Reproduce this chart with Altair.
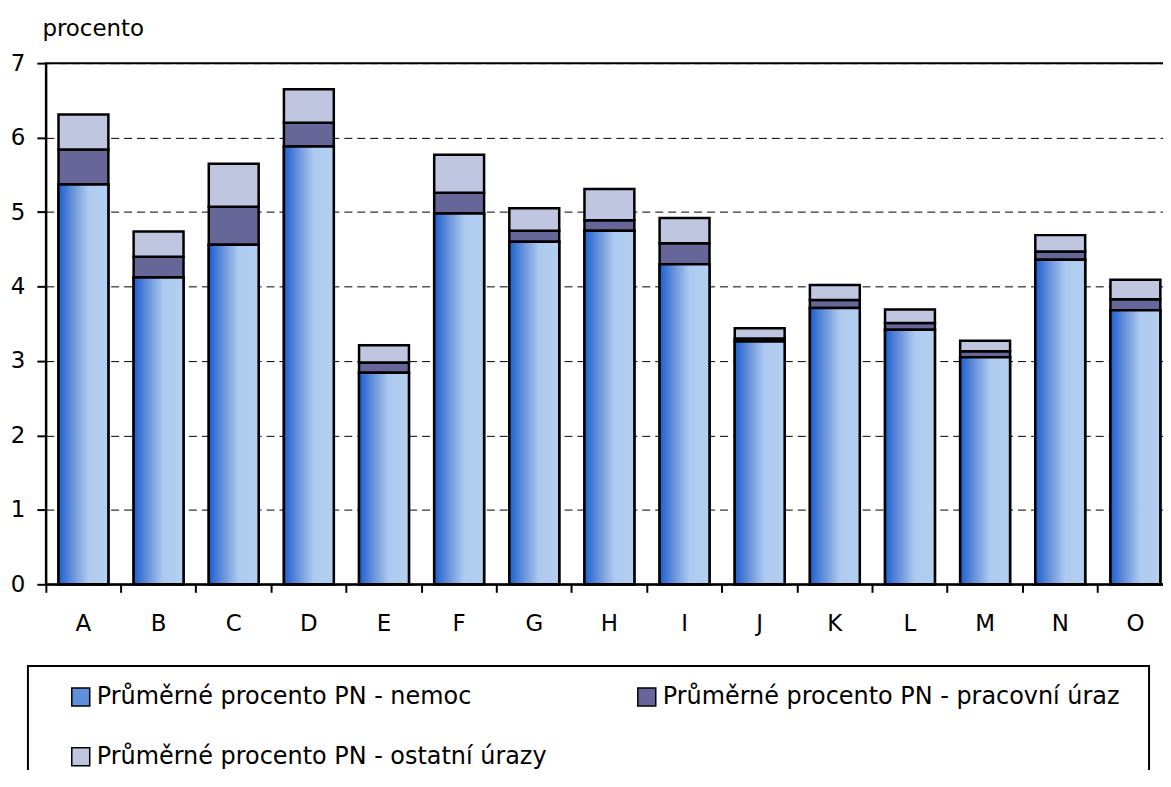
import altair as alt
import pandas as pd

categories = ["A", "B", "C", "D", "E", "F", "G", "H", "I", "J", "K", "L", "M", "N", "O"]
series_names = [
    "Průměrné procento PN - nemoc",
    "Průměrné procento PN - pracovní úraz",
    "Průměrné procento PN - ostatní úrazy",
]
nemoc = [5.37, 4.12, 4.56, 5.88, 2.84, 4.98, 4.60, 4.75, 4.30, 3.26, 3.71, 3.42, 3.05, 4.36, 3.68]
pracovni_uraz = [0.47, 0.28, 0.51, 0.32, 0.14, 0.28, 0.15, 0.14, 0.28, 0.04, 0.11, 0.09, 0.08, 0.11, 0.15]
ostatni_urazy = [0.47, 0.34, 0.58, 0.45, 0.23, 0.51, 0.30, 0.42, 0.34, 0.14, 0.20, 0.18, 0.14, 0.22, 0.26]
series_colors = ["#5f90dc", "#666699", "#c0c5e0"]
y_ticks = [0, 1, 2, 3, 4, 5, 6, 7]

rows = []
for i, c in enumerate(categories):
    for k, vals in enumerate([nemoc, pracovni_uraz, ostatni_urazy]):
        rows.append({"kat": c, "serie": series_names[k], "poradi": k, "hodnota": vals[i]})
df = pd.DataFrame(rows)

FONT = "DejaVu Sans"
W = 1131
H = 523

gradient = {
    "gradient": "linear",
    "x1": 0, "y1": 0, "x2": 1, "y2": 0,
    "stops": [
        {"offset": 0, "color": "#1c5fd0"},
        {"offset": 0.3, "color": "#6a95dc"},
        {"offset": 0.6, "color": "#aecbef"},
        {"offset": 1, "color": "#b3d0f2"},
    ],
}

x_axis = alt.Axis(
    title=None, bandPosition=0, labelAngle=0,
    labelFont=FONT, labelFontSize=23, labelColor="black",
    labelBaseline="alphabetic", labelPadding=38,
    tickSize=8, tickWidth=2, tickColor="black",
    domainColor="black", domainWidth=2, grid=False,
)
x_enc = alt.X("kat:N", sort=categories, scale=alt.Scale(paddingInner=0, paddingOuter=0), axis=x_axis)

y_scale = alt.Scale(domain=[0, 7], nice=False)
y_axis = alt.Axis(
    values=y_ticks, title="procento", titleAngle=0, titleAlign="left",
    titleBaseline="alphabetic", titleX=-4, titleY=-28,
    titleFont=FONT, titleFontSize=23, titleFontWeight="normal", titleColor="black",
    labelFont=FONT, labelFontSize=23, labelColor="black", labelPadding=12,
    tickSize=9, tickWidth=2, tickColor="black",
    domainColor="black", domainWidth=2,
    grid=True, gridDash=[8, 5], gridColor="black", gridWidth=1, gridOpacity=1,
)

bars = alt.Chart(df).mark_bar(
    width={"band": 0.664}, stroke="black", strokeWidth=2.5, opacity=1
).encode(
    x=x_enc,
    y=alt.Y("hodnota:Q", stack="zero", scale=y_scale, axis=y_axis),
    color=alt.Color(
        "serie:N",
        scale=alt.Scale(domain=series_names, range=series_colors),
        legend=alt.Legend(
            title=" ", titleOrient="right", titlePadding=10,
            titleFont=FONT, titleFontSize=24,
            orient="none", legendX=-18, legendY=605,
            direction="horizontal", columns=2, columnPadding=66, rowPadding=36,
            padding=19, symbolOffset=22,
            symbolType="square", symbolSize=324,
            symbolStrokeColor="black", symbolStrokeWidth=1.5, symbolOpacity=1,
            labelFont=FONT, labelFontSize=24, labelColor="black",
            labelOffset=4, labelLimit=1000,
            strokeColor="black",
        ),
    ),
    order=alt.Order("poradi:Q", sort="ascending"),
)

grad = alt.Chart(df).transform_filter(
    alt.datum.poradi == 0
).mark_bar(
    width={"band": 0.664}, fill=gradient, stroke="black", strokeWidth=2.5, opacity=1
).encode(
    x=x_enc,
    y=alt.Y("hodnota:Q", stack=None, scale=y_scale, axis=y_axis),
)

chart = alt.layer(bars, grad).properties(
    width=W,
    height=H,
    autosize=alt.AutoSizeParams(type="none"),
    padding={"left": 38, "top": 54, "right": -10, "bottom": 185},
    background="white",
).configure_view(
    stroke="black", strokeWidth=2
).configure_legend(
    strokeWidth=2
)

chart.save("out.html", embed_options={"renderer": "svg", "actions": False})
